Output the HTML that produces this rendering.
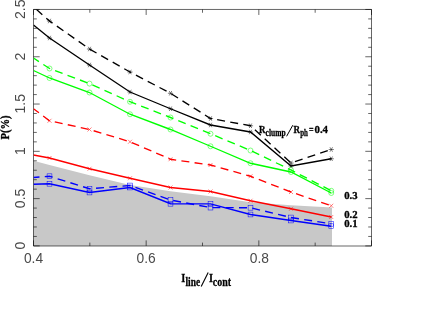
<!DOCTYPE html>
<html><head><meta charset="utf-8"><style>
html,body{margin:0;padding:0;background:#fff;}
body{width:423px;height:327px;overflow:hidden;position:relative;font-family:"Liberation Sans",sans-serif;}
svg{position:absolute;left:0;top:0;display:block}
svg{will-change:transform}
.t{font-family:"Liberation Sans",sans-serif;font-size:14px;fill:#4a4a4a;}
.b{font-family:"Liberation Serif",serif;font-weight:bold;fill:#000;stroke:#000;stroke-width:0.3px;}
</style></head><body>
<svg width="423" height="327" viewBox="0 0 423 327">
<defs><clipPath id="cp"><rect x="33.5" y="9.5" width="338" height="236.4"/></clipPath></defs>

<polygon points="33.5,160.75 49.5,165 89.5,175.3 130,185 170.5,191.2 210.5,196.3 250.5,202.3 291,205.3 332,207.5 332,245.9 33.5,245.9" fill="#c8c8c8"/>
<path d="M33.5 245.9V9.46H371.5V245.9" fill="none" stroke="#000" stroke-width="0.6"/>
<path d="M33.5 246H371.5" fill="none" stroke="#000" stroke-width="0.6"/>
<path d="M33.50 245.9v-5.5M33.50 9.46v5.5M89.83 245.9v-3.3M89.83 9.46v3.3M146.17 245.9v-5.5M146.17 9.46v5.5M202.50 245.9v-3.3M202.50 9.46v3.3M258.83 245.9v-5.5M258.83 9.46v5.5M315.17 245.9v-3.3M315.17 9.46v3.3M371.50 245.9v-5.5M371.50 9.46v5.5M33.5 245.90h6.2M371.5 245.90h-6.2M33.5 236.44h3.3M371.5 236.44h-3.3M33.5 226.98h3.3M371.5 226.98h-3.3M33.5 217.53h3.3M371.5 217.53h-3.3M33.5 208.07h3.3M371.5 208.07h-3.3M33.5 198.61h6.2M371.5 198.61h-6.2M33.5 189.15h3.3M371.5 189.15h-3.3M33.5 179.70h3.3M371.5 179.70h-3.3M33.5 170.24h3.3M371.5 170.24h-3.3M33.5 160.78h3.3M371.5 160.78h-3.3M33.5 151.32h6.2M371.5 151.32h-6.2M33.5 141.87h3.3M371.5 141.87h-3.3M33.5 132.41h3.3M371.5 132.41h-3.3M33.5 122.95h3.3M371.5 122.95h-3.3M33.5 113.49h3.3M371.5 113.49h-3.3M33.5 104.04h6.2M371.5 104.04h-6.2M33.5 94.58h3.3M371.5 94.58h-3.3M33.5 85.12h3.3M371.5 85.12h-3.3M33.5 75.66h3.3M371.5 75.66h-3.3M33.5 66.21h3.3M371.5 66.21h-3.3M33.5 56.75h6.2M371.5 56.75h-6.2M33.5 47.29h3.3M371.5 47.29h-3.3M33.5 37.83h3.3M371.5 37.83h-3.3M33.5 28.38h3.3M371.5 28.38h-3.3M33.5 18.92h3.3M371.5 18.92h-3.3M33.5 9.46h6.2M371.5 9.46h-6.2" stroke="#000" stroke-width="0.6" fill="none"/>
<g clip-path="url(#cp)">
<polyline points="33.5,6.8 49.5,21 89.5,49 130,72 170.5,93.25 210.5,118.5 250.5,125.75 291,163 331.25,149.5" fill="none" stroke="#000" stroke-width="1.35" stroke-dasharray="8 5.3" stroke-dashoffset="9.5"/>
<path d="M46.9 21H52.1M48.2 18.75L50.8 23.25M48.2 23.25L50.8 18.75" stroke="#000" stroke-width="0.5" fill="none"/>
<path d="M86.9 49H92.1M88.2 46.75L90.8 51.25M88.2 51.25L90.8 46.75" stroke="#000" stroke-width="0.5" fill="none"/>
<path d="M127.4 72H132.6M128.7 69.75L131.3 74.25M128.7 74.25L131.3 69.75" stroke="#000" stroke-width="0.5" fill="none"/>
<path d="M167.9 93.25H173.1M169.2 91.0L171.8 95.5M169.2 95.5L171.8 91.0" stroke="#000" stroke-width="0.5" fill="none"/>
<path d="M207.9 118.5H213.1M209.2 116.25L211.8 120.75M209.2 120.75L211.8 116.25" stroke="#000" stroke-width="0.5" fill="none"/>
<path d="M247.9 125.75H253.1M249.2 123.5L251.8 128.0M249.2 128.0L251.8 123.5" stroke="#000" stroke-width="0.5" fill="none"/>
<path d="M288.4 163H293.6M289.7 160.75L292.3 165.25M289.7 165.25L292.3 160.75" stroke="#000" stroke-width="0.5" fill="none"/>
<path d="M328.65 149.5H333.85M329.95 147.25L332.55 151.75M329.95 151.75L332.55 147.25" stroke="#000" stroke-width="0.5" fill="none"/>
<polyline points="33.5,25 49.5,38 89.5,65 130,92 170.5,108.75 210.5,125 250.5,132 291,166 331.25,158.75" fill="none" stroke="#000" stroke-width="1.35"/>
<path d="M46.9 38H52.1M48.2 35.75L50.8 40.25M48.2 40.25L50.8 35.75" stroke="#000" stroke-width="0.5" fill="none"/>
<path d="M86.9 65H92.1M88.2 62.75L90.8 67.25M88.2 67.25L90.8 62.75" stroke="#000" stroke-width="0.5" fill="none"/>
<path d="M127.4 92H132.6M128.7 89.75L131.3 94.25M128.7 94.25L131.3 89.75" stroke="#000" stroke-width="0.5" fill="none"/>
<path d="M167.9 108.75H173.1M169.2 106.5L171.8 111.0M169.2 111.0L171.8 106.5" stroke="#000" stroke-width="0.5" fill="none"/>
<path d="M207.9 125H213.1M209.2 122.75L211.8 127.25M209.2 127.25L211.8 122.75" stroke="#000" stroke-width="0.5" fill="none"/>
<path d="M247.9 132H253.1M249.2 129.75L251.8 134.25M249.2 134.25L251.8 129.75" stroke="#000" stroke-width="0.5" fill="none"/>
<path d="M288.4 166H293.6M289.7 163.75L292.3 168.25M289.7 168.25L292.3 163.75" stroke="#000" stroke-width="0.5" fill="none"/>
<path d="M328.65 158.75H333.85M329.95 156.5L332.55 161.0M329.95 161.0L332.55 156.5" stroke="#000" stroke-width="0.5" fill="none"/>
<polyline points="33.5,58 49.5,68.5 89.5,83.6 130,101.75 170.5,117.5 210.5,133.75 250.5,150.5 291,170 331.25,190.75" fill="none" stroke="#00ff00" stroke-width="1.35" stroke-dasharray="8 5.3" stroke-dashoffset="1.5"/>
<circle cx="49.5" cy="68.5" r="2.5" stroke="#00ff00" stroke-width="0.5" fill="none"/>
<circle cx="89.5" cy="83.6" r="2.5" stroke="#00ff00" stroke-width="0.5" fill="none"/>
<circle cx="130" cy="101.75" r="2.5" stroke="#00ff00" stroke-width="0.5" fill="none"/>
<circle cx="170.5" cy="117.5" r="2.5" stroke="#00ff00" stroke-width="0.5" fill="none"/>
<circle cx="210.5" cy="133.75" r="2.5" stroke="#00ff00" stroke-width="0.5" fill="none"/>
<circle cx="250.5" cy="150.5" r="2.5" stroke="#00ff00" stroke-width="0.5" fill="none"/>
<circle cx="291" cy="170" r="2.5" stroke="#00ff00" stroke-width="0.5" fill="none"/>
<circle cx="331.25" cy="190.75" r="2.5" stroke="#00ff00" stroke-width="0.5" fill="none"/>
<polyline points="33.5,70.5 49.5,78 89.5,92.5 130,114.25 170.5,129.5 210.5,146.25 250.5,163.25 291,172 331.25,193" fill="none" stroke="#00ff00" stroke-width="1.35"/>
<circle cx="49.5" cy="78" r="2.5" stroke="#00ff00" stroke-width="0.5" fill="none"/>
<circle cx="89.5" cy="92.5" r="2.5" stroke="#00ff00" stroke-width="0.5" fill="none"/>
<circle cx="130" cy="114.25" r="2.5" stroke="#00ff00" stroke-width="0.5" fill="none"/>
<circle cx="170.5" cy="129.5" r="2.5" stroke="#00ff00" stroke-width="0.5" fill="none"/>
<circle cx="210.5" cy="146.25" r="2.5" stroke="#00ff00" stroke-width="0.5" fill="none"/>
<circle cx="250.5" cy="163.25" r="2.5" stroke="#00ff00" stroke-width="0.5" fill="none"/>
<circle cx="291" cy="172" r="2.5" stroke="#00ff00" stroke-width="0.5" fill="none"/>
<circle cx="331.25" cy="193" r="2.5" stroke="#00ff00" stroke-width="0.5" fill="none"/>
<polyline points="33.5,108.75 49.5,120.75 89.5,129.5 130,141.75 170.5,159.25 210.5,165 250.5,176.25 291,192 331.25,205.75" fill="none" stroke="#ff0000" stroke-width="1.35" stroke-dasharray="8 5.3" stroke-dashoffset="1.2"/>
<path d="M47.5 118.75L51.5 122.75M47.5 122.75L51.5 118.75" stroke="#ff0000" stroke-width="0.5" fill="none"/>
<path d="M87.5 127.5L91.5 131.5M87.5 131.5L91.5 127.5" stroke="#ff0000" stroke-width="0.5" fill="none"/>
<path d="M128 139.75L132 143.75M128 143.75L132 139.75" stroke="#ff0000" stroke-width="0.5" fill="none"/>
<path d="M168.5 157.25L172.5 161.25M168.5 161.25L172.5 157.25" stroke="#ff0000" stroke-width="0.5" fill="none"/>
<path d="M208.5 163L212.5 167M208.5 167L212.5 163" stroke="#ff0000" stroke-width="0.5" fill="none"/>
<path d="M248.5 174.25L252.5 178.25M248.5 178.25L252.5 174.25" stroke="#ff0000" stroke-width="0.5" fill="none"/>
<path d="M289 190L293 194M289 194L293 190" stroke="#ff0000" stroke-width="0.5" fill="none"/>
<path d="M329.25 203.75L333.25 207.75M329.25 207.75L333.25 203.75" stroke="#ff0000" stroke-width="0.5" fill="none"/>
<polyline points="33.5,155 49.5,158 89.5,168.75 130,178.25 170.5,187.5 210.5,191.5 250.5,200.75 291,208.75 331.25,217" fill="none" stroke="#ff0000" stroke-width="1.35"/>
<path d="M47.5 156L51.5 160M47.5 160L51.5 156" stroke="#ff0000" stroke-width="0.5" fill="none"/>
<path d="M87.5 166.75L91.5 170.75M87.5 170.75L91.5 166.75" stroke="#ff0000" stroke-width="0.5" fill="none"/>
<path d="M128 176.25L132 180.25M128 180.25L132 176.25" stroke="#ff0000" stroke-width="0.5" fill="none"/>
<path d="M168.5 185.5L172.5 189.5M168.5 189.5L172.5 185.5" stroke="#ff0000" stroke-width="0.5" fill="none"/>
<path d="M208.5 189.5L212.5 193.5M208.5 193.5L212.5 189.5" stroke="#ff0000" stroke-width="0.5" fill="none"/>
<path d="M248.5 198.75L252.5 202.75M248.5 202.75L252.5 198.75" stroke="#ff0000" stroke-width="0.5" fill="none"/>
<path d="M289 206.75L293 210.75M289 210.75L293 206.75" stroke="#ff0000" stroke-width="0.5" fill="none"/>
<path d="M329.25 215L333.25 219M329.25 219L333.25 215" stroke="#ff0000" stroke-width="0.5" fill="none"/>
<polyline points="33.5,177.5 49.5,176.25 89.5,188.75 130,185.5 170.5,200 210.5,207.6 250.5,207.75 291,217.5 331.25,223.75" fill="none" stroke="#0000ff" stroke-width="1.35" stroke-dasharray="8 5.3" stroke-dashoffset="2"/>
<rect x="47.1" y="173.85" width="4.8" height="4.8" stroke="#0000ff" stroke-width="0.5" fill="none"/>
<rect x="87.1" y="186.35" width="4.8" height="4.8" stroke="#0000ff" stroke-width="0.5" fill="none"/>
<rect x="127.6" y="183.1" width="4.8" height="4.8" stroke="#0000ff" stroke-width="0.5" fill="none"/>
<rect x="168.1" y="197.6" width="4.8" height="4.8" stroke="#0000ff" stroke-width="0.5" fill="none"/>
<rect x="208.1" y="205.2" width="4.8" height="4.8" stroke="#0000ff" stroke-width="0.5" fill="none"/>
<rect x="248.1" y="205.35" width="4.8" height="4.8" stroke="#0000ff" stroke-width="0.5" fill="none"/>
<rect x="288.6" y="215.1" width="4.8" height="4.8" stroke="#0000ff" stroke-width="0.5" fill="none"/>
<rect x="328.85" y="221.35" width="4.8" height="4.8" stroke="#0000ff" stroke-width="0.5" fill="none"/>
<polyline points="33.5,184.25 49.5,183.75 89.5,192.5 130,187.5 170.5,203.75 210.5,203.9 250.5,214.5 291,220.5 331.25,226.25" fill="none" stroke="#0000ff" stroke-width="1.35"/>
<rect x="47.1" y="181.35" width="4.8" height="4.8" stroke="#0000ff" stroke-width="0.5" fill="none"/>
<rect x="87.1" y="190.1" width="4.8" height="4.8" stroke="#0000ff" stroke-width="0.5" fill="none"/>
<rect x="127.6" y="185.1" width="4.8" height="4.8" stroke="#0000ff" stroke-width="0.5" fill="none"/>
<rect x="168.1" y="201.35" width="4.8" height="4.8" stroke="#0000ff" stroke-width="0.5" fill="none"/>
<rect x="208.1" y="201.5" width="4.8" height="4.8" stroke="#0000ff" stroke-width="0.5" fill="none"/>
<rect x="248.1" y="212.1" width="4.8" height="4.8" stroke="#0000ff" stroke-width="0.5" fill="none"/>
<rect x="288.6" y="218.1" width="4.8" height="4.8" stroke="#0000ff" stroke-width="0.5" fill="none"/>
<rect x="328.85" y="223.85" width="4.8" height="4.8" stroke="#0000ff" stroke-width="0.5" fill="none"/>
</g>
<text class="t" x="23.9" y="263.2" textLength="19.2" lengthAdjust="spacingAndGlyphs">0.4</text>
<text class="t" x="136.5" y="263.2" textLength="19.2" lengthAdjust="spacingAndGlyphs">0.6</text>
<text class="t" x="249.79999999999998" y="263.2" textLength="19.2" lengthAdjust="spacingAndGlyphs">0.8</text>
<text class="t" transform="translate(25 245.7) rotate(-90)" text-anchor="middle">0</text>
<text class="t" transform="translate(25 198.4) rotate(-90)" text-anchor="middle">0.5</text>
<text class="t" transform="translate(25 151.1) rotate(-90)" text-anchor="middle">1</text>
<text class="t" transform="translate(25 103.8) rotate(-90)" text-anchor="middle">1.5</text>
<text class="t" transform="translate(25 56.5) rotate(-90)" text-anchor="middle">2</text>
<text class="t" transform="translate(25 9.3) rotate(-90)" text-anchor="middle">2.5</text>
<text class="b" transform="translate(9.4 139.5) rotate(-90)" font-size="11.5" textLength="24" lengthAdjust="spacingAndGlyphs">P(%)</text>
<text class="b" x="181.3" y="282" font-size="11.5" textLength="4" lengthAdjust="spacingAndGlyphs">I</text>
<text class="b" x="185.5" y="286" font-size="12" textLength="14.7" lengthAdjust="spacingAndGlyphs">line</text>
<path d="M201.2 286.6L208.2 272.5" stroke="#000" stroke-width="1.1"/>
<text class="b" x="209" y="282" font-size="11.5" textLength="4" lengthAdjust="spacingAndGlyphs">I</text>
<text class="b" x="212.8" y="286" font-size="12" textLength="18.2" lengthAdjust="spacingAndGlyphs">cont</text>
<text class="b" x="259" y="133" font-size="10" textLength="6.5" lengthAdjust="spacingAndGlyphs">R</text>
<text class="b" x="265.6" y="135.6" font-size="10" textLength="20" lengthAdjust="spacingAndGlyphs">clump</text>
<path d="M286.6 136.3L292.8 125.2" stroke="#000" stroke-width="1"/>
<text class="b" x="293.5" y="133" font-size="10" textLength="6.5" lengthAdjust="spacingAndGlyphs">R</text>
<text class="b" x="300.2" y="135.6" font-size="10" textLength="7.7" lengthAdjust="spacingAndGlyphs">ph</text>
<text class="b" x="309" y="133" font-size="10" textLength="4.6" lengthAdjust="spacingAndGlyphs">=</text>
<text class="b" x="314.5" y="133" font-size="10.5" textLength="13.5" lengthAdjust="spacingAndGlyphs">0.4</text>
<text class="b" x="344.2" y="199" font-size="10" textLength="13.4" lengthAdjust="spacingAndGlyphs">0.3</text>
<text class="b" x="344.2" y="218.1" font-size="10" textLength="13.4" lengthAdjust="spacingAndGlyphs">0.2</text>
<text class="b" x="344.2" y="227.4" font-size="10" textLength="13.4" lengthAdjust="spacingAndGlyphs">0.1</text>
</svg></body></html>
